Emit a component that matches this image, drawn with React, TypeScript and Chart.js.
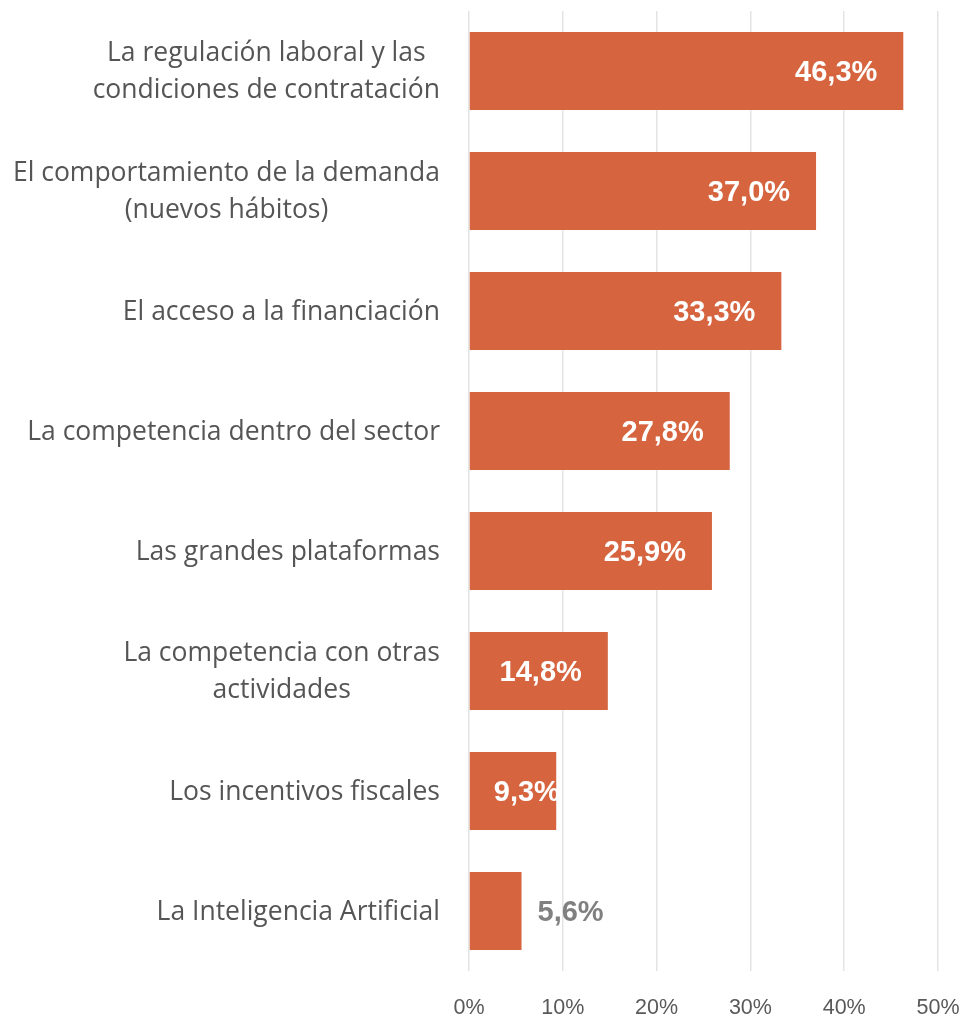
import React, { useEffect, useRef } from "react";
import { Chart, registerables } from "chart.js";

Chart.register(...registerables);

const categories: (string | string[])[] = [
  ["La regulación laboral y las", "condiciones de contratación"],
  ["El comportamiento de la demanda", "(nuevos hábitos)"],
  "El acceso a la financiación",
  "La competencia dentro del sector",
  "Las grandes plataformas",
  ["La competencia con otras", "actividades"],
  "Los incentivos fiscales",
  "La Inteligencia Artificial",
];

const values: number[] = [46.3, 37.0, 33.3, 27.8, 25.9, 14.8, 9.3, 5.6];

const xTicks: number[] = [0, 10, 20, 30, 40, 50];

const BAR_COLOR = "#D6643F";
const fmt = (v: number) => v.toFixed(1).replace(".", ",") + "%";

const labelPlugin = {
  id: "barLabels",
  afterDatasetsDraw(chart: any) {
    const ctx = chart.ctx;
    const meta = chart.getDatasetMeta(0);
    ctx.save();
    ctx.font = 'bold 29px "Liberation Sans", Arial, sans-serif';
    ctx.textBaseline = "middle";
    ctx.textAlign = "left";
    meta.data.forEach((bar: any, i: number) => {
      const text = fmt(values[i]);
      const w = ctx.measureText(text).width;
      const start = bar.base;
      const end = bar.x;
      let x: number;
      if (end - start >= w * 1.2) {
        x = Math.max(end - 26 - w, start + 24);
        ctx.fillStyle = "#ffffff";
      } else {
        x = end + 16;
        ctx.fillStyle = "#808080";
      }
      ctx.fillText(text, x, bar.y + 2);
    });
    ctx.restore();
  },
};

const categoryLabelPlugin = {
  id: "categoryLabels",
  afterDraw(chart: any) {
    const ctx = chart.ctx;
    const yScale = chart.scales.y;
    const right = chart.chartArea.left - 29;
    const lineH = 37;
    ctx.save();
    ctx.font = '26.5px "Open Sans", sans-serif';
    ctx.fillStyle = "#555555";
    ctx.textBaseline = "middle";
    ctx.textAlign = "center";
    categories.forEach((cat, i) => {
      const lines = Array.isArray(cat) ? cat : [cat];
      const maxW = Math.max(...lines.map((l) => ctx.measureText(l).width));
      const cx = right - maxW / 2;
      const cy = yScale.getPixelForValue(i) + 1;
      lines.forEach((l, j) => {
        const y = cy + (j - (lines.length - 1) / 2) * lineH;
        ctx.fillText(l, cx, y);
      });
    });
    ctx.restore();
  },
};

export default function App() {
  const ref = useRef<HTMLCanvasElement | null>(null);
  useEffect(() => {
    if (!ref.current) return;
    const chart = new Chart(ref.current, {
      type: "bar",
      data: {
        labels: categories,
        datasets: [
          {
            data: values,
            backgroundColor: BAR_COLOR,
            borderWidth: 0,
            barPercentage: 0.65,
            categoryPercentage: 1,
          },
        ],
      },
      options: {
        indexAxis: "y",
        responsive: false,
        animation: false,
        layout: { padding: { top: 11, right: 27, bottom: 0, left: 0 } },
        plugins: {
          legend: { display: false },
          tooltip: { enabled: false },
        },
        scales: {
          x: {
            min: 0,
            max: 50,
            afterBuildTicks: (scale: any) => {
              scale.ticks = xTicks.map((v) => ({ value: v }));
            },
            afterFit: (scale: any) => {
              scale.height = 47;
              scale.paddingLeft = 0;
              scale.paddingRight = 0;
            },
            grid: { color: "#e4e4e4", lineWidth: 1.5, drawTicks: false },
            border: { display: false },
            ticks: {
              padding: 24,
              color: "#595959",
              font: { family: '"Liberation Sans", Arial, sans-serif', size: 21.5 },
              callback: (v: any) => v + "%",
            },
          },
          y: {
            afterFit: (scale: any) => {
              scale.width = 469;
              scale.paddingTop = 0;
              scale.paddingBottom = 0;
            },
            grid: { display: false, drawTicks: false },
            border: { display: false },
            ticks: { display: false },
          },
        },
      },
      plugins: [labelPlugin, categoryLabelPlugin],
    });
    return () => chart.destroy();
  }, []);
  return (
    <div style={{ position: "fixed", left: 0, top: 0, width: 965, height: 1018 }}>
      <canvas ref={ref} width={965} height={1018} style={{ display: "block" }} />
    </div>
  );
}
